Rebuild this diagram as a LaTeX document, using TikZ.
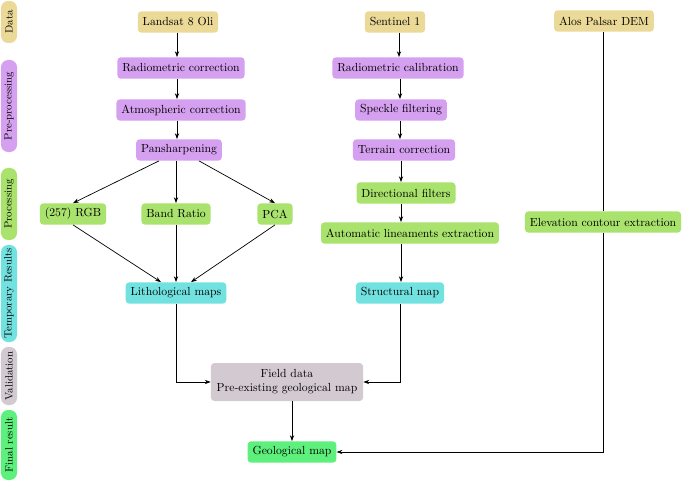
\documentclass[tikz,border=0pt]{standalone}
\usepackage{tikz}
\usetikzlibrary{arrows.meta,positioning,shapes,calc}

\definecolor{datacol}{HTML}{EBD998}
\definecolor{precol}{HTML}{D6A0F0}
\definecolor{proccol}{HTML}{A9E26C}
\definecolor{tempcol}{HTML}{72E2E0}
\definecolor{valcol}{HTML}{D2CAD0}
\definecolor{finalcol}{HTML}{5DF07C}

\begin{document}
\begin{tikzpicture}[x=0.03cm,y=-0.03cm,
  box/.style={rounded corners=3pt, inner xsep=4.2pt, inner ysep=0pt, minimum height=0.64cm, font=\normalsize},
  stage/.style={rotate=90, rounded corners=6pt, inner sep=0pt, minimum height=0.48cm, font=\small},
  arr/.style={-{Stealth[length=5pt,width=3.6pt]}, semithick}]
\useasboundingbox (0,0) rectangle (685,487);

% Stage labels on the left
\node[stage, fill=datacol, minimum width=1.26cm] (sdata) at (9,22) {Data};
\node[stage, fill=precol, minimum width=2.76cm] (spre) at (9,106) {Pre-processing};
\node[stage, fill=proccol, minimum width=2.16cm] (sproc) at (9,204) {Processing};
\node[stage, fill=tempcol, minimum width=2.91cm] (stemp) at (9,293.5) {Temporary Results};
\node[stage, fill=valcol, minimum width=1.74cm] (sval) at (9,376) {Validation};
\node[stage, fill=finalcol, minimum width=2.1cm] (sfinal) at (9,445) {Final result};

% Optical branch (Landsat)
\node[box, fill=datacol] (landsat) at (178,22) {Landsat 8 Oli};
\node[box, fill=precol] (radcor) at (181,68) {Radiometric correction};
\node[box, fill=precol] (atmcor) at (181,110) {Atmospheric correction};
\node[box, fill=precol] (pansh) at (179,150) {Pansharpening};
\node[box, fill=proccol] (rgb) at (73,214) {(257) RGB};
\node[box, fill=proccol] (bratio) at (176,214) {Band Ratio};
\node[box, fill=proccol] (pca) at (275,214) {PCA};
\node[box, fill=tempcol] (litho) at (176,293) {Lithological maps};

% Radar branch (Sentinel)
\node[box, fill=datacol] (sentinel) at (395,22) {Sentinel 1};
\node[box, fill=precol] (radcal) at (398,68) {Radiometric calibration};
\node[box, fill=precol] (speckle) at (401,110) {Speckle filtering};
\node[box, fill=precol] (terrain) at (404,150) {Terrain correction};
\node[box, fill=proccol] (dirfilt) at (406,193) {Directional filters};
\node[box, fill=proccol] (autolin) at (410,233) {Automatic lineaments extraction};
\node[box, fill=tempcol] (struct) at (400,293) {Structural map};

% DEM branch
\node[box, fill=datacol] (alos) at (604,21) {Alos Palsar DEM};
\node[box, fill=proccol] (elev) at (603,222) {Elevation contour extraction};

% Validation and result
\node[box, fill=valcol, align=center, minimum height=1.14cm, inner xsep=5pt] (field) at (287,382) {Field data\\Pre-existing geological map};
\node[box, fill=finalcol] (geomap) at (292,452) {Geological map};

% Connectors
\draw[arr] (177,0 |- landsat.south) -- (177,0 |- radcor.north);
\draw[arr] (177,0 |- radcor.south) -- (177,0 |- atmcor.north);
\draw[arr] (177,0 |- atmcor.south) -- (177,0 |- pansh.north);
\draw[arr] ([xshift=-0.6cm]pansh.south) -- (rgb.north);
\draw[arr] (176,0 |- pansh.south) -- (bratio.north);
\draw[arr] ([xshift=0.6cm]pansh.south) -- (pca.north);
\draw[arr] (rgb.south) -- ([xshift=-0.45cm]litho.north);
\draw[arr] (bratio.south) -- (litho.north);
\draw[arr] (pca.south) -- ([xshift=0.45cm]litho.north);
\draw[arr] (399,0 |- sentinel.south) -- (399,0 |- radcal.north);
\draw[arr] (400,0 |- radcal.south) -- (400,0 |- speckle.north);
\draw[arr] (400,0 |- speckle.south) -- (400,0 |- terrain.north);
\draw[arr] (401,0 |- terrain.south) -- (401,0 |- dirfilt.north);
\draw[arr] (401,0 |- dirfilt.south) -- (401,0 |- autolin.north);
\draw[arr] (401,0 |- autolin.south) -- (401,0 |- struct.north);
\draw[semithick] (alos.south -| elev.north) -- (elev.north);
\draw[arr] (litho.south) |- (field.west);
\draw[arr] (struct.south) |- (field.east);
\draw[arr] (field.south -| geomap.north) -- (geomap.north);
\draw[arr] (elev.south) |- (geomap.east);

\end{tikzpicture}
\end{document}
